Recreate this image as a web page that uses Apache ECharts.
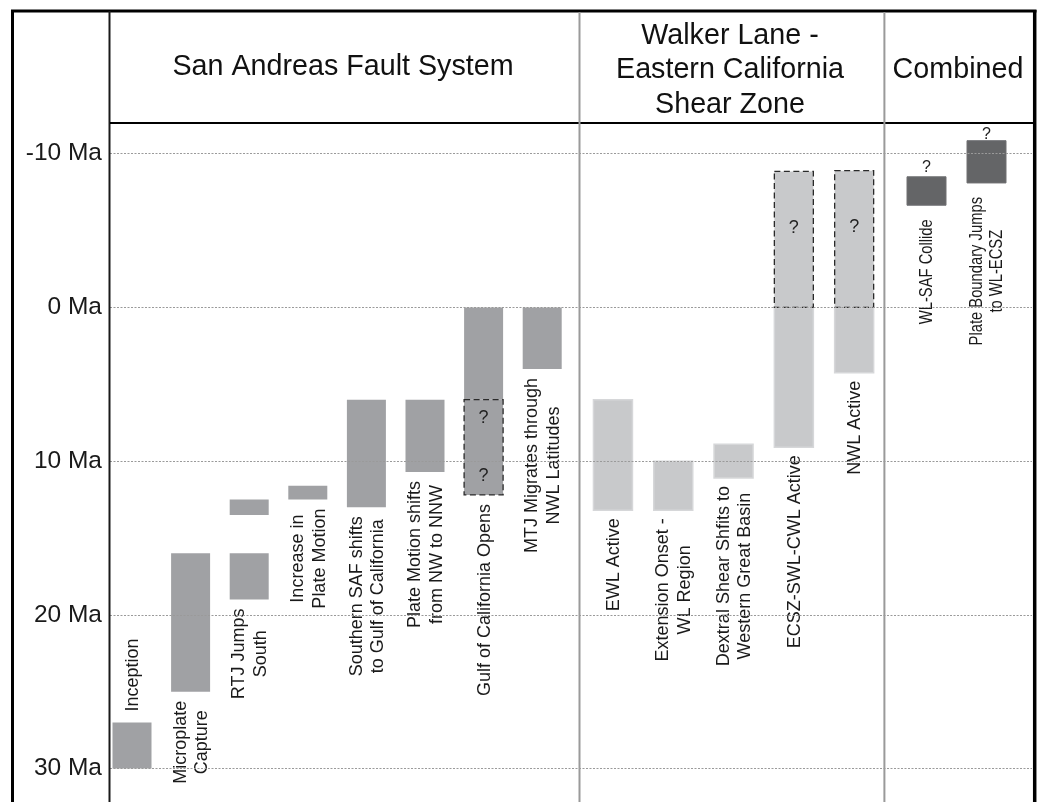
<!DOCTYPE html>
<html><head><meta charset="utf-8">
<script src="https://cdn.jsdelivr.net/npm/echarts@6/dist/echarts.min.js"></script>
<style>html,body{margin:0;padding:0;background:#fff}#c{width:1040px;height:802px}</style>
</head><body><div id="c"></div><script>
// ---- data (Ma; negative = future) ----
const yTicks = [-10, 0, 10, 20, 30];
const yMin = -12, yMax = 32;
const sectionTitles = ['San Andreas Fault System', 'Walker Lane -\nEastern California\nShear Zone', 'Combined'];

const safEvents = ['Inception', 'Microplate\nCapture', 'RTJ Jumps\nSouth', 'Increase in\nPlate Motion',
  'Southern SAF shifts\nto Gulf of California', 'Plate Motion shifts\nfrom NW to NNW',
  'Gulf of California Opens', 'MTJ Migrates through\nNWL Latitudes'];
// [event index, young bound, old bound]
const safIntervals = [[0, 27, 30], [1, 16, 25], [2, 12.5, 13.5], [2, 16, 19], [3, 11.6, 12.5],
  [4, 6, 13], [5, 6, 10.7], [6, 0, 6], [7, 0, 4]];
const safUncertain = [[6, 6, 12.2]];
const safQuery = [[6, 7.2], [6, 11.0]];

const wlEvents = ['EWL Active', 'Extension Onset -\nWL Region', 'Dextral Shear Shfits to\nWestern Great Basin',
  'ECSZ-SWL-CWL Active', 'NWL Active'];
const wlIntervals = [[0, 6, 13.2], [1, 10, 13.2], [2, 8.9, 11.1], [3, 0, 9.1], [4, 0, 4.25]];
const wlUncertain = [[3, -8.85, 0], [4, -8.9, 0]];
const wlQuery = [[3, -5.15], [4, -5.2]];

const combEvents = ['WL-SAF Collide', 'Plate Boundary Jumps\nto WL-ECSZ'];
const combIntervals = [[0, -8.5, -6.65], [1, -10.85, -8.1]];
const combUncertain = [];
const combQuery = [[0, -9.1], [1, -11.25]];

// ---- helpers ----
const FONT = '"Liberation Sans", Arial, Helvetica, sans-serif';
const BAR_W = 39;
const mctx = document.createElement('canvas').getContext('2d');
function measure(text, size) {
  mctx.font = size + 'px ' + FONT;
  return Math.max.apply(null, text.split('\n').map(s => mctx.measureText(s).width));
}
function extents(n, a, b) {
  const out = [];
  for (let i = 0; i < n; i++) {
    const all = a.concat(b).filter(d => d[0] === i);
    out.push([i, Math.min.apply(null, all.map(d => d[1])), Math.max.apply(null, all.map(d => d[2]))]);
  }
  return out;
}
function barRender(fill, stroke, lw, dash) {
  return function (params, api) {
    const c = api.value(0);
    const a = api.coord([c, api.value(1)]);
    const b = api.coord([c, api.value(2)]);
    return {
      type: 'rect',
      shape: { x: a[0] - BAR_W / 2, y: a[1], width: BAR_W, height: b[1] - a[1] },
      style: { fill: fill, stroke: stroke, lineWidth: lw, lineDash: dash }
    };
  };
}
function labelRender(names, size, lh, squeeze, gap) {
  return function (params, api) {
    const i = api.value(0);
    const top = api.coord([i, api.value(1)]);
    const bot = api.coord([i, api.value(2)]);
    const text = names[i];
    const len = measure(text, size) * squeeze;
    let cy = bot[1] + gap + len / 2;
    if (cy + len / 2 > api.getHeight()) cy = top[1] - gap - 2 - len / 2;
    return {
      type: 'text', x: bot[0] + 1, y: cy, rotation: Math.PI / 2, scaleX: squeeze, scaleY: 1,
      style: {
        text: text, fontSize: size, fontFamily: FONT, fill: '#1a1a1a',
        align: 'center', verticalAlign: 'middle', lineHeight: lh,
        backgroundColor: '#fff', padding: [0, 2]
      }
    };
  };
}
function queryRender(size) {
  return function (params, api) {
    const p = api.coord([api.value(0), api.value(1)]);
    return {
      type: 'text', x: p[0], y: p[1],
      style: { text: '?', fontSize: size, fontFamily: FONT, fill: '#222', align: 'center', verticalAlign: 'middle' }
    };
  };
}

const chart = echarts.init(document.getElementById('c'), null, { renderer: 'canvas' });

const gridTop = 123, gridBottom = 2.7;
const grids = [
  { left: 110, right: 8, top: gridTop, bottom: gridBottom },
  { left: 102.7, width: 468.8, top: gridTop, bottom: gridBottom },
  { left: 582.8, width: 301.5, top: gridTop, bottom: gridBottom },
  { left: 896.5, width: 120, top: gridTop, bottom: gridBottom }
];
const hiddenY = i => ({ type: 'value', gridIndex: i, inverse: true, min: yMin, max: yMax, show: false });
const catX = (i, names) => ({ type: 'category', gridIndex: i, data: names, show: false, boundaryGap: true });

const sections = [
  { names: safEvents, iv: safIntervals, un: safUncertain, q: safQuery, fill: '#a0a1a4', stroke: '#a0a1a4', lw: 0, fs: 18, lh: 21.5, sq: 1, gap: 9, qs: 18 },
  { names: wlEvents, iv: wlIntervals, un: wlUncertain, q: wlQuery, fill: '#c8c9cb', stroke: '#d6d7d9', lw: 1.5, fs: 18, lh: 21.5, sq: 1, gap: 8, qs: 18 },
  { names: combEvents, iv: combIntervals, un: combUncertain, q: combQuery, fill: '#646567', stroke: '#707173', lw: 1, fs: 18, lh: 20, sq: 0.82, gap: 14, qs: 16 }
];

const series = [{
  type: 'line', xAxisIndex: 0, yAxisIndex: 0, data: [], silent: true, z: 1,
  markLine: {
    silent: true, symbol: ['none', 'none'], label: { show: false }, animation: false,
    lineStyle: { color: '#9a9a9a', width: 1.2, type: [2, 1.5] },
    data: yTicks.map(v => ({ yAxis: v }))
  }
}];
sections.forEach((s, k) => {
  const gi = k + 1;
  series.push({
    type: 'custom', xAxisIndex: gi, yAxisIndex: gi, z: 3, silent: true,
    renderItem: barRender(s.fill, s.stroke, s.lw, null), data: s.iv
  });
  if (s.un.length) series.push({
    type: 'custom', xAxisIndex: gi, yAxisIndex: gi, z: 3, silent: true,
    renderItem: barRender(s.fill, '#2a2a2a', 1.3, [6, 3.5]), data: s.un
  });
  series.push({
    type: 'custom', xAxisIndex: gi, yAxisIndex: gi, z: 4, silent: true,
    renderItem: queryRender(s.qs), data: s.q
  });
  series.push({
    type: 'custom', xAxisIndex: gi, yAxisIndex: gi, z: 4, silent: true,
    renderItem: labelRender(s.names, s.fs, s.lh, s.sq, s.gap), data: extents(s.names.length, s.iv, s.un)
  });
});

const line = (x1, y1, x2, y2, color, w) => ({
  type: 'line', z: 100, silent: true, shape: { x1, y1, x2, y2 }, style: { stroke: color, lineWidth: w }
});
const title = (x, y, text, lh) => ({
  type: 'text', z: 100, silent: true, x, y,
  style: { text, fontSize: 28.7, fontFamily: FONT, fill: '#111', align: 'center', verticalAlign: 'middle', lineHeight: lh }
});

chart.setOption({
  animation: false,
  backgroundColor: '#fff',
  grid: grids,
  xAxis: [{ type: 'value', gridIndex: 0, min: 0, max: 1, show: false },
    catX(1, safEvents), catX(2, wlEvents), catX(3, combEvents)],
  yAxis: [{
    type: 'value', gridIndex: 0, inverse: true, min: yMin, max: yMax,
    axisLine: { show: false }, axisTick: { show: false }, splitLine: { show: false },
    axisLabel: {
      fontSize: 24.5, fontFamily: FONT, color: '#1a1a1a', margin: 8,
      showMinLabel: false, showMaxLabel: false,
      formatter: v => (yTicks.indexOf(v) >= 0 ? v + ' Ma' : '')
    }
  }, hiddenY(1), hiddenY(2), hiddenY(3)],
  series: series,
  graphic: [
    line(11, 11, 1036.5, 11, '#000', 3),
    line(12.5, 10, 12.5, 802, '#000', 3),
    line(1034.7, 10, 1034.7, 802, '#000', 3.5),
    line(109.5, 11, 109.5, 802, '#1a1a1a', 2),
    line(110, 123, 1034, 123, '#000', 2),
    line(579.5, 12, 579.5, 802, '#9a9a9a', 2),
    line(884.4, 12, 884.4, 802, '#9a9a9a', 2),
    title(343, 67.5, sectionTitles[0], 34),
    title(730, 70.5, sectionTitles[1], 34.5),
    title(958, 70.5, sectionTitles[2], 34)
  ]
});
</script></body></html>
